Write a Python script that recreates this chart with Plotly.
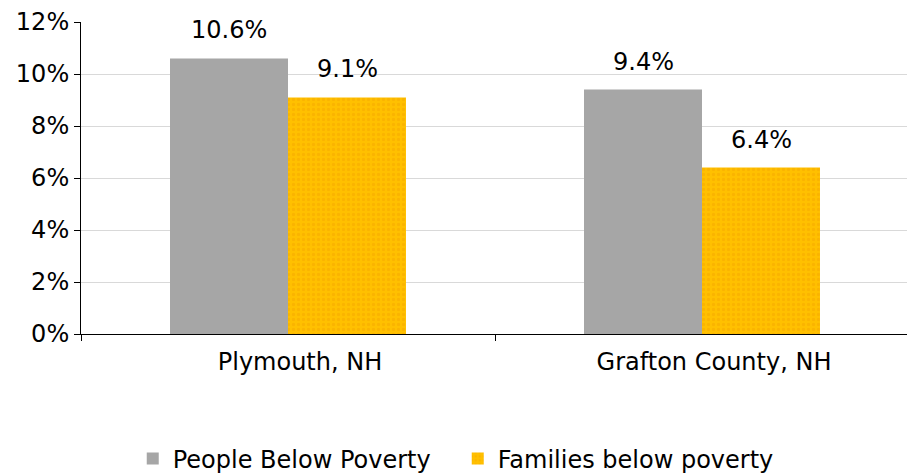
import plotly.graph_objects as go

categories = ["Plymouth, NH", "Grafton County, NH"]
people_below = [10.6, 9.4]
families_below = [9.1, 6.4]
y_ticks = [0, 2, 4, 6, 8, 10, 12]
y_tick_labels = ["0%", "2%", "4%", "6%", "8%", "10%", "12%"]

FONT = "DejaVu Sans"

fig = go.Figure()
fig.add_trace(go.Bar(
    name="People Below Poverty", x=categories, y=people_below,
    marker=dict(color="#A6A6A6", line=dict(width=0)),
))
fig.add_trace(go.Bar(
    name="Families below poverty", x=categories, y=families_below,
    marker=dict(color="#FFC000", line=dict(width=0),
                pattern=dict(shape=".", fgcolor="#F5A800", bgcolor="#FFC000",
                             size=5, solidity=0.35)),
))

annotations = []
for i, c in enumerate(categories):
    for vals, shift in ((people_below, -59), (families_below, 59)):
        annotations.append(dict(
            x=c, y=vals[i], xref="x", yref="y", text=f"{vals[i]:.1f}%",
            showarrow=False, xshift=shift, yshift=28, yanchor="middle",
            font=dict(family=FONT, size=24, color="#000000"),
        ))

# page body adds an 8px offset; figure sized to compensate
fig.update_layout(
    width=907, height=467,
    margin=dict(l=73, r=6, t=14, b=141, autoexpand=False),
    paper_bgcolor="white", plot_bgcolor="white",
    barmode="group", bargap=0.43, bargroupgap=0,
    font=dict(family=FONT, size=24, color="#000000"),
    showlegend=True,
    legend=dict(orientation="h", x=0.455, xanchor="center", y=-0.40, yanchor="middle",
                font=dict(family=FONT, size=24), entrywidthmode="pixels",
                entrywidth=280, tracegroupgap=0),
    annotations=annotations,
    xaxis=dict(type="category", showline=True, linecolor="#000000", linewidth=1,
               ticks="outside", tickson="boundaries", ticklen=6, tickcolor="#000000",
               showgrid=False, tickfont=dict(family=FONT, size=24), automargin=False,
               ticklabelshift=12, ticklabelstandoff=6),
    yaxis=dict(range=[0, 12], tickvals=y_ticks, ticktext=y_tick_labels,
               showline=True, linecolor="#000000", linewidth=1,
               ticks="outside", ticklen=6, tickcolor="#000000",
               showgrid=True, gridcolor="#D9D9D9", gridwidth=1,
               zeroline=False, tickfont=dict(family=FONT, size=24), automargin=False),
)

fig.write_html("out.html")
